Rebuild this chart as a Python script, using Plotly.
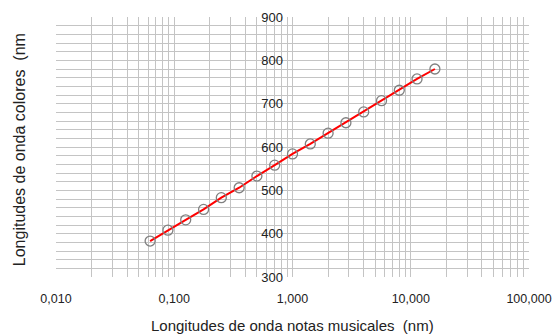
import plotly.graph_objects as go

# Data
notes_nm = [0.0625, 0.0884, 0.125, 0.177, 0.25, 0.354, 0.5, 0.707, 1.0,
            1.414, 2.0, 2.83, 4.0, 5.66, 8.0, 11.3, 16.0]
colors_nm = [383, 408, 432, 456, 483, 506, 533, 558, 584, 607, 632,
             656, 681, 707, 731, 757, 780]

x_major = [0.01, 0.1, 1, 10, 100]
x_labels = ["0,010", "0,100", "1,000", "10,000", "100,000"]

# log grid positions (1..9 per decade)
grid_vals = []
grid_text = []
for d in [0.01, 0.1, 1, 10]:
    for m in range(1, 10):
        v = round(d * m, 6)
        grid_vals.append(v)
        grid_text.append(x_labels[x_major.index(d)] if m == 1 else "")
grid_vals.append(100)
grid_text.append("100,000")

FONT = "Liberation Sans, Arial, sans-serif"
GRID = "#c4c4c4"

fig = go.Figure()
fig.add_trace(go.Scatter(
    x=notes_nm, y=colors_nm, mode="lines",
    line=dict(color="#ff0000", width=2), showlegend=False, hoverinfo="skip"))
fig.add_trace(go.Scatter(
    x=notes_nm, y=colors_nm, mode="markers",
    marker=dict(symbol="circle-open", size=10, color="#808080",
                line=dict(width=1.3, color="#808080")),
    showlegend=False))

fig.update_layout(
    width=555, height=336,
    margin=dict(l=56, r=26, t=17, b=59, autoexpand=False),
    paper_bgcolor="white", plot_bgcolor="white",
    font=dict(family=FONT, size=13, color="#222222"),
    xaxis=dict(type="log", range=[-2, 2], domain=[0, 1], automargin=False,
               tickvals=grid_vals, ticktext=grid_text,
               showgrid=True, gridcolor=GRID, gridwidth=1,
               zeroline=False, showline=False,
               ticks="outside", ticklen=10, tickcolor="rgba(0,0,0,0)",
               tickfont=dict(size=12.5)),
    yaxis=dict(range=[300, 900], dtick=100, anchor="free", position=0.5,
               automargin=False,
               showgrid=True, gridcolor=GRID, gridwidth=1,
               minor=dict(dtick=20, showgrid=True, gridcolor=GRID, gridwidth=1),
               zeroline=False, showline=False,
               ticks="outside", ticklen=7, tickcolor="rgba(0,0,0,0)",
               tickfont=dict(size=13)),
    annotations=[
        dict(text="Longitudes de onda notas musicales  (nm)", xref="paper",
             yref="paper", x=0.5, y=-0.188, xanchor="center",
             yanchor="middle", showarrow=False, font=dict(size=15)),
        dict(text="Longitudes de onda colores  (nm", xref="paper",
             yref="paper", x=-0.077, y=0.49, xanchor="center",
             yanchor="middle", textangle=-90, showarrow=False,
             font=dict(size=16)),
    ],
)

fig.write_html("out.html",
               config={"displayModeBar": False},
               post_script="document.body.style.margin='0';"
                           "document.body.style.overflow='hidden';")
